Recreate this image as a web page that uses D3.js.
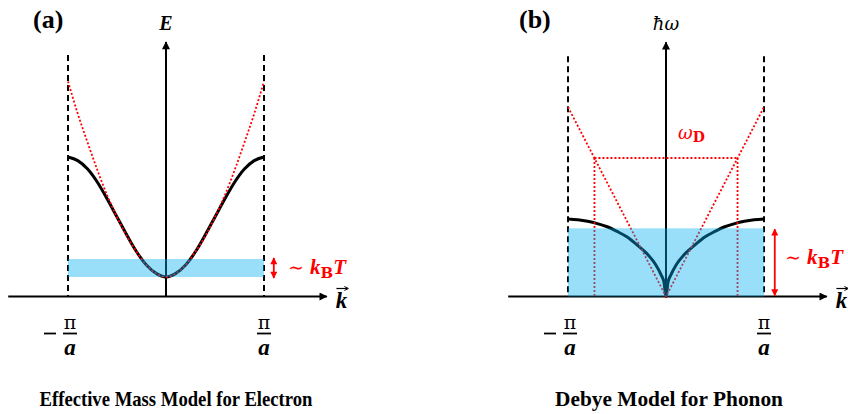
<!DOCTYPE html>
<html>
<head>
<meta charset="utf-8">
<script src="https://cdn.jsdelivr.net/npm/d3@7"></script>
<style>
  html, body { margin: 0; padding: 0; background: #fff; }
  svg { display: block; }
</style>
</head>
<body>
<svg id="chart" width="848" height="414"></svg>
<script>
// Wave vector grid in units of pi/a
const kElectron = [-1.0, -0.9, -0.8, -0.7, -0.6, -0.5, -0.4, -0.3, -0.2, -0.1, 0,
                   0.1, 0.2, 0.3, 0.4, 0.5, 0.6, 0.7, 0.8, 0.9, 1.0];
// Tight-binding band (normalised to band width)
const bandEnergy = [1.00, 0.97, 0.90, 0.79, 0.65, 0.50, 0.35, 0.21, 0.10, 0.03, 0,
                    0.03, 0.10, 0.21, 0.35, 0.50, 0.65, 0.79, 0.90, 0.97, 1.00];
// Effective-mass (parabolic) approximation
const parabolaEnergy = [1.63, 1.36, 1.12, 0.89, 0.68, 0.50, 0.34, 0.21, 0.10, 0.03, 0,
                        0.03, 0.10, 0.21, 0.34, 0.50, 0.68, 0.89, 1.12, 1.36, 1.63];
const thermalElectron = 0.15;   // ~kBT window above band bottom

// Acoustic phonon branch (normalised to zone-boundary frequency)
const kPhonon = [-1.0, -0.9, -0.8, -0.7, -0.6, -0.5, -0.4, -0.3, -0.2, -0.1, -0.05, -0.02, 0,
                 0.02, 0.05, 0.1, 0.2, 0.3, 0.4, 0.5, 0.6, 0.7, 0.8, 0.9, 1.0];
const phononEnergy = [1.00, 0.99, 0.97, 0.94, 0.90, 0.84, 0.77, 0.67, 0.56, 0.40, 0.28, 0.18, 0,
                      0.18, 0.28, 0.40, 0.56, 0.67, 0.77, 0.84, 0.90, 0.94, 0.97, 0.99, 1.00];
// Debye linear dispersion and cut-off
const debyeK = [-1, 0, 1];
const debyeEnergy = [2.445, 0, 2.445];
const debyeCutoffK = 0.73;
const debyeFrequency = 1.787;
const thermalPhonon = 0.88;

const zoneTicks = [-1, 1];
const titles = ["Effective Mass Model for Electron", "Debye Model for Phonon"];
const panelTags = ["(a)", "(b)"];

const RED = "#ff0000";
const BAND = "#00b0f0";

const svg = d3.select("#chart");
const defs = svg.append("defs");
defs.append("marker").attr("id", "arrowBlack")
  .attr("viewBox", "0 0 10 10").attr("refX", 9).attr("refY", 5)
  .attr("markerWidth", 10).attr("markerHeight", 8).attr("markerUnits", "userSpaceOnUse")
  .attr("orient", "auto")
  .append("path").attr("d", "M0,0 L10,5 L0,10 z").attr("fill", "#000");
defs.append("marker").attr("id", "arrowRed")
  .attr("viewBox", "0 0 10 10").attr("refX", 9).attr("refY", 5)
  .attr("markerWidth", 8).attr("markerHeight", 7).attr("markerUnits", "userSpaceOnUse")
  .attr("orient", "auto-start-reverse")
  .append("path").attr("d", "M0,0 L10,5 L0,10 z").attr("fill", RED);

function drawPanel(opts) {
  const { g, x, y, axisE, topE, dashTopE, tag, title, yLabel } = opts;
  const y0 = y(axisE);

  // k axis
  g.append("line")
    .attr("x1", x(-1.61)).attr("x2", x(1.64))
    .attr("y1", y0).attr("y2", y0)
    .attr("stroke", "#000").attr("stroke-width", 2)
    .attr("marker-end", "url(#arrowBlack)");
  // energy axis
  g.append("line")
    .attr("x1", x(0)).attr("x2", x(0))
    .attr("y1", y0).attr("y2", y(topE))
    .attr("stroke", "#000").attr("stroke-width", 2)
    .attr("marker-end", "url(#arrowBlack)");
  // Brillouin zone boundaries
  g.selectAll("line.zone").data(zoneTicks).join("line")
    .attr("class", "zone")
    .attr("x1", d => x(d)).attr("x2", d => x(d))
    .attr("y1", y(dashTopE)).attr("y2", y0)
    .attr("stroke", "#000").attr("stroke-width", 2)
    .attr("stroke-dasharray", "6,4");

  // zone boundary labels  ±π/a
  const lbl = g.selectAll("g.ztick").data(zoneTicks).join("g")
    .attr("class", "ztick")
    .attr("transform", d => `translate(${x(d) + (d < 0 ? 2 : 0)},0)`);
  lbl.append("text").attr("y", y0 + 32).attr("text-anchor", "middle")
    .attr("font-family", "DejaVu Serif").attr("font-size", 19).text("π");
  lbl.append("line").attr("x1", -7).attr("x2", 7)
    .attr("y1", y0 + 37).attr("y2", y0 + 37)
    .attr("stroke", "#000").attr("stroke-width", 1.8);
  lbl.append("text").attr("y", y0 + 58).attr("text-anchor", "middle")
    .attr("font-family", "Liberation Serif").attr("font-weight", "bold")
    .attr("font-style", "italic").attr("font-size", 23).text("a");
  lbl.filter(d => d < 0).append("line")
    .attr("x1", -26).attr("x2", -14)
    .attr("y1", y0 + 37).attr("y2", y0 + 37)
    .attr("stroke", "#000").attr("stroke-width", 1.8);

  // vector k label
  const kx = x(1.79);
  g.append("text").attr("x", kx).attr("y", y0 + 11).attr("text-anchor", "middle")
    .attr("font-family", "Liberation Serif").attr("font-weight", "bold")
    .attr("font-style", "italic").attr("font-size", 23).text("k");
  g.append("line").attr("x1", kx - 5).attr("x2", kx + 6)
    .attr("y1", y0 - 8).attr("y2", y0 - 8)
    .attr("stroke", "#000").attr("stroke-width", 1.2);
  g.append("path")
    .attr("d", `M${kx + 3},${y0 - 10} L${kx + 7},${y0 - 8} L${kx + 3},${y0 - 6}`)
    .attr("fill", "none").attr("stroke", "#000").attr("stroke-width", 1);

  // panel tag and title
  g.append("text").attr("x", tag.x).attr("y", 28)
    .attr("font-family", "Liberation Serif").attr("font-weight", "bold")
    .attr("font-size", 26).text(tag.text);
  g.append("text").attr("x", title.x).attr("y", 406).attr("text-anchor", "middle")
    .attr("font-family", "Liberation Serif").attr("font-weight", "bold")
    .attr("font-size", 21)
    .attr("textLength", title.width).attr("lengthAdjust", "spacingAndGlyphs")
    .text(title.text);
  yLabel(g.append("text").attr("x", x(0)).attr("y", 30).attr("text-anchor", "middle"));
}

function thermalLabel(g, xStart, baseline) {
  const t = g.append("text").attr("x", xStart).attr("y", baseline)
    .attr("fill", RED).attr("font-family", "Liberation Serif")
    .attr("font-weight", "bold").attr("font-size", 21);
  t.append("tspan").attr("font-weight", "normal").attr("font-family", "DejaVu Serif")
    .attr("font-size", 19).text("∼ ");
  t.append("tspan").attr("font-style", "italic").text("k");
  t.append("tspan").attr("dy", 4).attr("font-size", 15).attr("font-family", "DejaVu Serif").text("B");
  t.append("tspan").attr("dy", -4).attr("font-style", "italic").text("T");
}

// ---------- (a) electron ----------
{
  const g = svg.append("g");
  const x = d3.scaleLinear().domain([-1, 1]).range([68, 264]);
  const y = d3.scaleLinear().domain([0, 1]).range([277, 157]);
  const axisE = -0.1625;

  drawPanel({
    g, x, y, axisE, topE: 1.958, dashTopE: 1.85,
    tag: { x: 33, text: panelTags[0] },
    title: { x: 176, width: 273, text: titles[0] },
    yLabel: t => t.attr("font-family", "Liberation Serif").attr("font-weight", "bold")
      .attr("font-style", "italic").attr("font-size", 20).text("E")
  });

  const line = d3.line().x(d => x(d[0])).y(d => y(d[1])).curve(d3.curveMonotoneX);
  g.append("path").datum(d3.zip(kElectron, bandEnergy))
    .attr("d", line).attr("fill", "none")
    .attr("stroke", "#000").attr("stroke-width", 3);
  g.append("path").datum(d3.zip(kElectron, parabolaEnergy))
    .attr("d", line).attr("fill", "none")
    .attr("stroke", RED).attr("stroke-width", 1.8).attr("stroke-dasharray", "2,2");

  // thermal window
  g.append("rect")
    .attr("x", x(-1)).attr("width", x(1) - x(-1))
    .attr("y", y(thermalElectron)).attr("height", y(0) - y(thermalElectron))
    .attr("fill", BAND).attr("fill-opacity", 0.4);

  g.append("line")
    .attr("x1", x(1.10)).attr("x2", x(1.10))
    .attr("y1", y(0) + 1).attr("y2", y(thermalElectron) - 1)
    .attr("stroke", RED).attr("stroke-width", 1.8)
    .attr("marker-start", "url(#arrowRed)").attr("marker-end", "url(#arrowRed)");
  thermalLabel(g, 288, 274);
}

// ---------- (b) phonon ----------
{
  const g = svg.append("g");
  const x = d3.scaleLinear().domain([-1, 1]).range([568, 764]);
  const y = d3.scaleLinear().domain([0, 1]).range([296.5, 219]);
  const axisE = 0;

  drawPanel({
    g, x, y, axisE, topE: 3.28, dashTopE: 3.10,
    tag: { x: 519, text: panelTags[1] },
    title: { x: 669, width: 228, text: titles[1] },
    yLabel: t => t.attr("font-family", "DejaVu Serif").attr("font-style", "italic")
      .attr("font-size", 18).text("ħω")
  });

  const line = d3.line().x(d => x(d[0])).y(d => y(d[1])).curve(d3.curveMonotoneX);
  const dotted = sel => sel.attr("fill", "none").attr("stroke", RED)
    .attr("stroke-width", 1.8).attr("stroke-dasharray", "2,2");

  g.append("path").datum(d3.zip(kPhonon, phononEnergy))
    .attr("d", line).attr("fill", "none")
    .attr("stroke", "#000").attr("stroke-width", 3);

  // Debye dispersion, cut-off frequency and cut-off wave vectors
  g.append("path").datum(d3.zip(debyeK, debyeEnergy))
    .attr("d", d3.line().x(d => x(d[0])).y(d => y(d[1]))).call(dotted);
  g.append("line")
    .attr("x1", x(-debyeCutoffK)).attr("x2", x(debyeCutoffK))
    .attr("y1", y(debyeFrequency)).attr("y2", y(debyeFrequency)).call(dotted);
  g.selectAll("line.cut").data([-debyeCutoffK, debyeCutoffK]).join("line")
    .attr("class", "cut")
    .attr("x1", d => x(d)).attr("x2", d => x(d))
    .attr("y1", y(debyeFrequency)).attr("y2", y(0)).call(dotted);

  const wd = g.append("text").attr("x", 678).attr("y", y(debyeFrequency) - 19)
    .attr("fill", RED).attr("font-family", "DejaVu Serif").attr("font-size", 18);
  wd.append("tspan").attr("font-style", "italic").text("ω");
  wd.append("tspan").attr("dy", 3).attr("font-size", 14).attr("font-weight", "bold").text("D");

  // thermal window
  g.append("rect")
    .attr("x", x(-1)).attr("width", x(1) - x(-1))
    .attr("y", y(thermalPhonon)).attr("height", y(0) - y(thermalPhonon))
    .attr("fill", BAND).attr("fill-opacity", 0.4);

  g.append("line")
    .attr("x1", x(1.11)).attr("x2", x(1.11))
    .attr("y1", y(0) - 1).attr("y2", y(thermalPhonon) + 1)
    .attr("stroke", RED).attr("stroke-width", 1.8)
    .attr("marker-start", "url(#arrowRed)").attr("marker-end", "url(#arrowRed)");
  thermalLabel(g, 785, 264);
}
</script>
</body>
</html>
